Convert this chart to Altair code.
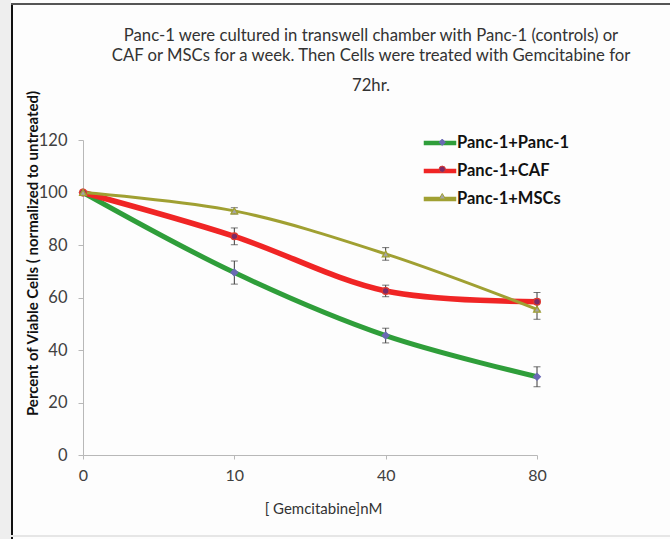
import altair as alt
import pandas as pd

# ---- data ----
doses = ["0", "10", "40", "80"]
series_names = ["Panc-1+Panc-1", "Panc-1+CAF", "Panc-1+MSCs"]
panc_vals = [100, 69.5, 45.5, 29.8]
panc_err = [0, 4.4, 2.8, 3.8]
caf_vals = [100, 83.3, 62.5, 58.4]
caf_err = [0, 3.2, 2.2, 3.5]
msc_vals = [100, 93.0, 76.6, 55.5]
msc_err = [0, 1.2, 2.4, 3.8]

title_lines = [
    "Panc-1  were cultured in transwell chamber with Panc-1 (controls) or",
    "CAF or MSCs  for a week. Then Cells were treated with Gemcitabine for",
    "72hr.",
]
x_title = "[ Gemcitabine]nM"
y_title = "Percent of Viable Cells ( normalized to untreated)"

# ---- styles ----
line_colors = ["#2f9e3a", "#f02525", "#a0a032"]
line_widths = [5, 5.5, 3]
marker_shapes = ["diamond", "circle", "triangle-up"]
marker_fills = ["#6a6ab4", "#7c2a66", "#a4a4a4"]
marker_strokes = ["#6a6ab4", "#e03a30", "#a0a032"]
FONT = "Lato"

rows = []
for name, vals, errs in [(series_names[0], panc_vals, panc_err),
                         (series_names[1], caf_vals, caf_err),
                         (series_names[2], msc_vals, msc_err)]:
    for d, v, e in zip(doses, vals, errs):
        rows.append({"series": name, "dose": d, "value": v, "err": e,
                     "lo": v - e, "hi": v + e})
df = pd.DataFrame(rows)

base = alt.Chart(df)

x_axis = alt.Axis(domainColor="#b8b8b8", tickColor="#b8b8b8", tickSize=4,
                  labelFont=FONT, labelFontSize=16, labelColor="#404040",
                  labelPadding=8, labelAngle=0, grid=False,
                  titleFont=FONT, titleFontSize=15, titleFontWeight="normal",
                  titleColor="#333333", titleX=240, titleY=53,
                  titleBaseline="middle", titleAlign="center")
y_axis = alt.Axis(values=[0, 20, 40, 60, 80, 100, 120],
                  domainColor="#b8b8b8", tickColor="#b8b8b8", tickSize=5,
                  labelFont=FONT, labelFontSize=16.5, labelColor="#404040",
                  labelPadding=11, grid=False,
                  titleFont=FONT, titleFontSize=15, titleFontWeight="bold",
                  titleColor="#111111", titleX=-51, titleY=113,
                  titleAngle=270, titleAlign="center", titleBaseline="middle")

xs = alt.Scale(type="point", domain=doses, padding=0)
ys = alt.Scale(domain=[0, 120], nice=False)
x = alt.X("dose:O", sort=doses, scale=xs, axis=x_axis, title=x_title)
y = alt.Y("value:Q", scale=ys, axis=y_axis, title=y_title)
y_lo = alt.Y("lo:Q", scale=ys, axis=y_axis, title=y_title)
y_hi = alt.Y("hi:Q", scale=ys, axis=y_axis, title=y_title)

legend_lines = alt.Legend(title=None, orient="none", legendX=348, legendY=-6,
                          symbolType="M-2.5,0L2.5,0", symbolSize=169,
                          symbolStrokeWidth=4.5,
                          labelFont=FONT, labelFontSize=16.5,
                          labelFontWeight="bold", labelColor="#111111",
                          labelOffset=8, rowPadding=10)
legend_marks = alt.Legend(title=None, orient="none", legendX=351, legendY=-6,
                          symbolSize=40, symbolStrokeWidth=1,
                          labelFont=FONT, labelFontSize=16.5,
                          labelFontWeight="bold", labelExpr="''",
                          labelOffset=8, rowPadding=10)

color = alt.Color("series:N", sort=series_names, scale=alt.Scale(range=line_colors),
                  legend=legend_lines)

layers = []
for name, w in zip(series_names, line_widths):
    layers.append(
        base.transform_filter(alt.datum.series == name)
        .mark_line(interpolate="catmull-rom", strokeWidth=w)
        .encode(x=x, y=y, color=color)
    )

errs = base.transform_filter(alt.datum.err > 0)
layers.append(errs.mark_rule(color="#3a3a3a", strokeWidth=1).encode(
    x=x, y=y_lo, y2="hi:Q"))
layers.append(errs.mark_tick(color="#3a3a3a", thickness=1, size=7).encode(
    x=x, y=y_lo))
layers.append(errs.mark_tick(color="#3a3a3a", thickness=1, size=7).encode(
    x=x, y=y_hi))

layers.append(
    base.transform_calculate(mseries="datum.series")
    .mark_point(filled=True, size=45, strokeWidth=1.3, opacity=1)
    .encode(
        x=x, y=y,
        shape=alt.Shape("mseries:N", scale=alt.Scale(domain=series_names, range=marker_shapes), legend=legend_marks),
        fill=alt.Fill("mseries:N", scale=alt.Scale(domain=series_names, range=marker_fills), legend=legend_marks),
        stroke=alt.Stroke("mseries:N", scale=alt.Scale(domain=series_names, range=marker_strokes), legend=legend_marks),
    )
)

# chart title lines (text)
title_y = [-104, -84, -54]
for t, ty in zip(title_lines, title_y):
    layers.append(
        alt.Chart(pd.DataFrame({"t": [t]})).mark_text(
            font=FONT, fontSize=16.7, color="#333333", align="center", baseline="middle"
        ).encode(text="t:N", x=alt.value(288), y=alt.value(ty))
    )

# frame decoration
one = pd.DataFrame({"k": [0]})
layers.append(alt.Chart(one).mark_rect(color="#eeeeee").encode(
    x=alt.value(-83), x2=alt.value(-72), y=alt.value(-140), y2=alt.value(399)))
layers.append(alt.Chart(one).mark_rule(color="#111111", strokeWidth=2).encode(
    x=alt.value(-71), y=alt.value(-136), y2=alt.value(399)))
layers.append(alt.Chart(one).mark_rule(color="#555555", strokeWidth=2).encode(
    x=alt.value(-72), x2=alt.value(587), y=alt.value(-136)))
layers.append(alt.Chart(one).mark_rule(color="#e6e6e6", strokeWidth=2).encode(
    x=alt.value(-72), x2=alt.value(587), y=alt.value(396)))

chart = alt.layer(*layers).properties(
    width=454, height=315,
    autosize=alt.AutoSizeParams(type="none"),
    padding={"left": 83, "top": 140, "right": 133, "bottom": 84},
    background="#fdfdfd",
).configure_view(stroke=None)

chart.save("out.html", embed_options={"renderer": "svg", "actions": False})
